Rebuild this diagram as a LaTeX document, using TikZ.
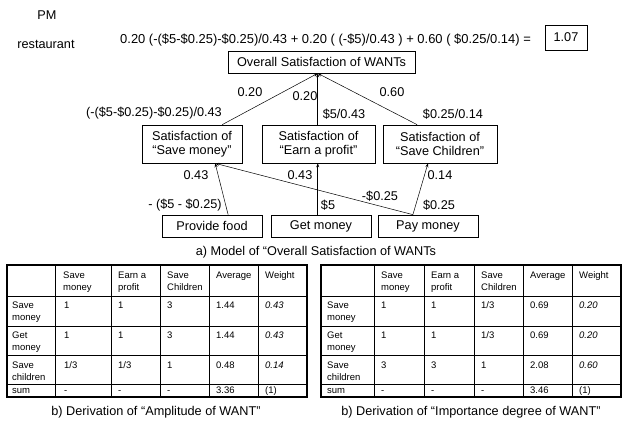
\documentclass[tikz,border=0pt]{standalone}
\usepackage{fontspec}
\setmainfont{Liberation Sans}
\usetikzlibrary{arrows.meta,calc}
\begin{document}
\begin{tikzpicture}[x=1pt,y=-1pt,
  txt/.style={inner sep=0pt,font=\fontsize{12.7}{14}\selectfont},
  box/.style={draw,line width=0.7pt,inner sep=0pt,font=\fontsize{12.7}{14}\selectfont,align=center},
  arr/.style={line width=0.5pt,-{Stealth[length=4pt,width=3pt]}},
  cell/.style={inner sep=0pt,anchor=base west,font=\fontsize{9.5}{12}\selectfont,align=left},
  cell2/.style={cell,yshift=-12pt},
  captxt/.style={inner sep=0pt,font=\fontsize{12.7}{14}\selectfont},
  tout/.style={line width=1.2pt},
  tin/.style={line width=0.6pt}]
\useasboundingbox (0,0) rectangle (624,427);
% top texts
\node[txt] (pm) at (47,15) {PM};
\node[txt] (rest) at (46,44) {restaurant};
\node[txt,anchor=west,font=\fontsize{12.95}{14}\selectfont] (eq) at (120,40) {0.20 (-(\$5-\$0.25)-\$0.25)/0.43 + 0.20 ( (-\$5)/0.43 ) + 0.60 ( \$0.25/0.14) =};
\node[box,minimum width=42pt,minimum height=25pt] (res) at (566,37.5) {1.07};
% model boxes
\node[box,minimum width=187pt,minimum height=22pt] (ov) at (321.5,62) {Overall Satisfaction of WANTs};
\node[box,minimum width=100pt,minimum height=38pt] (sm) at (192,144) {Satisfaction of\\“Save money”};
\node[box,minimum width=113pt,minimum height=38pt] (ep) at (318.5,144) {Satisfaction of\\“Earn a profit”};
\node[box,minimum width=114pt,minimum height=38pt] (sc) at (440,144) {Satisfaction of\\“Save Children”};
\node[box,minimum width=100pt,minimum height=22pt] (pf) at (212,226) {Provide food};
\node[box,minimum width=100pt,minimum height=22pt] (gm) at (321,226) {Get money};
\node[box,minimum width=100pt,minimum height=22pt] (pay) at (428,226) {Pay money};
% connection points
\coordinate (ovin) at ($(ov.south west)!0.48!(ov.south east)$);
\coordinate (smtop) at ($(sm.north west)!0.8!(sm.north east)$);
\coordinate (eptop) at (ep.north -| ovin);
\coordinate (sctop) at ($(sc.north west)!0.3!(sc.north east)$);
\coordinate (smin) at ($(sm.south west)!0.73!(sm.south east)$);
\coordinate (pftop) at ($(pf.north west)!0.66!(pf.north east)$);
\coordinate (gmtop) at (gm.north -| ovin);
\coordinate (epin) at (ep.south -| ovin);
\coordinate (paytop) at ($(pay.north west)!0.35!(pay.north east)$);
\coordinate (scin) at ($(sc.south west)!0.395!(sc.south east)$);
\draw[arr] (smtop) -- (ovin);
\draw[arr] (eptop) -- (ovin);
\draw[arr] (sctop) -- (ovin);
\draw[arr] (pftop) -- (smin);
\draw[arr] (paytop) -- (smin);
\draw[arr] (gmtop) -- (epin);
\draw[arr] (paytop) -- (scin);
% labels
\node[txt] (l1) at (250,92) {0.20};
\node[txt] (l2) at (305,96) {0.20};
\node[txt] (l3) at (154,113) {(-(\$5-\$0.25)-\$0.25)/0.43};
\node[txt] (l4) at (392,92) {0.60};
\node[txt] (l5) at (344,114) {\$5/0.43};
\node[txt] (l6) at (453,114) {\$0.25/0.14};
\node[txt] (l7) at (196,175) {0.43};
\node[txt] (l8) at (185,205) {- (\$5 - \$0.25)};
\node[txt] (l9) at (300,175) {0.43};
\node[txt] (l10) at (328,205) {\$5};
\node[txt] (l11) at (380,196) {-\$0.25};
\node[txt] (l12) at (440,175) {0.14};
\node[txt] (l13) at (439,205) {\$0.25};
\node[captxt] (capa) at (316,252) {a) Model of “Overall Satisfaction of WANTs};
% left table
\draw[tin] (55,265) -- (55,397) (111,265) -- (111,397) (160,265) -- (160,397) (209,265) -- (209,397) (258,265) -- (258,397);
\draw[tin] (7,296) -- (307,296) (7,326) -- (307,326) (7,355) -- (307,355) (7,384) -- (307,384);
\draw[tout] (7,265) rectangle (307,397);
% right table
\draw[tin] (374,265) -- (374,397) (424,265) -- (424,397) (474,265) -- (474,397) (523,265) -- (523,397) (572,265) -- (572,397);
\draw[tin] (321,296) -- (621,296) (321,326) -- (621,326) (321,355) -- (621,355) (321,384) -- (621,384);
\draw[tout] (321,265) rectangle (621,397);
% left table text
\node[cell2] (lh1) at (63,279) {Save\\money};
\node[cell2] (lh2) at (118,279) {Earn a\\profit};
\node[cell2] (lh3) at (167,279) {Save\\Children};
\node[cell] (lh4) at (216,279) {Average};
\node[cell] (lh5) at (265,279) {Weight};
\foreach \y/\r/\a/\b/\c/\d/\w [count=\j] in {
  309/{Save\\money}/1/1/3/1.44/0.43,
  339/{Get\\money}/1/1/3/1.44/0.43,
  369/{Save\\children}/1\slash3/1\slash3/1/0.48/0.14}{
  \node[cell2] (lr\j) at (12,\y) {\r};
  \node[cell] (la\j) at (64,\y) {\a};
  \node[cell] (lb\j) at (118,\y) {\b};
  \node[cell] (lc\j) at (167,\y) {\c};
  \node[cell] (ld\j) at (216,\y) {\d};
  \node[cell] (lw\j) at (265,\y) {\itshape\w};
}
\node[cell] (ls0) at (12,394) {sum};
\node[cell] (ls1) at (64,394) {-};
\node[cell] (ls2) at (118,394) {-};
\node[cell] (ls3) at (167,394) {-};
\node[cell] (ls4) at (216,394) {3.36};
\node[cell] (ls5) at (265,394) {(1)};
% right table text
\node[cell2] (rh1) at (381,279) {Save\\money};
\node[cell2] (rh2) at (431,279) {Earn a\\profit};
\node[cell2] (rh3) at (481,279) {Save\\Children};
\node[cell] (rh4) at (530,279) {Average};
\node[cell] (rh5) at (579,279) {Weight};
\foreach \y/\r/\a/\b/\c/\d/\w [count=\j] in {
  309/{Save\\money}/1/1/1\slash3/0.69/0.20,
  339/{Get\\money}/1/1/1\slash3/0.69/0.20,
  369/{Save\\children}/3/3/1/2.08/0.60}{
  \node[cell2] (rr\j) at (327,\y) {\r};
  \node[cell] (ra\j) at (381,\y) {\a};
  \node[cell] (rb\j) at (431,\y) {\b};
  \node[cell] (rc\j) at (481,\y) {\c};
  \node[cell] (rd\j) at (530,\y) {\d};
  \node[cell] (rw\j) at (579,\y) {\itshape\w};
}
\node[cell] (rs0) at (327,394) {sum};
\node[cell] (rs1) at (381,394) {-};
\node[cell] (rs2) at (431,394) {-};
\node[cell] (rs3) at (481,394) {-};
\node[cell] (rs4) at (530,394) {3.46};
\node[cell] (rs5) at (579,394) {(1)};
\node[captxt] (capb1) at (156,412) {b) Derivation of “Amplitude of WANT”};
\node[captxt] (capb2) at (471,412) {b) Derivation of “Importance degree of WANT”};
\end{tikzpicture}
\end{document}
